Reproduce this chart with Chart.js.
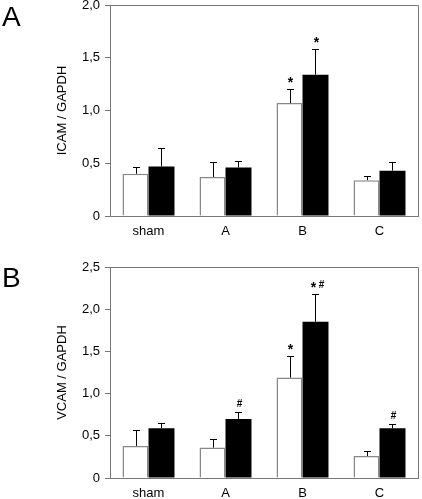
<!DOCTYPE html>
<html>
<head>
<meta charset="utf-8">
<script src="https://cdn.jsdelivr.net/npm/chart.js@4/dist/chart.umd.min.js"></script>
<style>
  html, body { margin: 0; padding: 0; background: #fff; }
  body { width: 422px; height: 499px; position: relative; overflow: hidden; font-family: "Liberation Sans", Arial, sans-serif; }
  .panel { position: absolute; left: 0; width: 422px; }
  .letter { position: absolute; left: 2px; font-size: 28px; line-height: 28px; color: #000; font-family: "Liberation Sans", Arial, sans-serif; }
</style>
</head>
<body>
<div class="panel" style="top:0;height:250px;"><canvas id="chartA" width="422" height="250"></canvas></div>
<div class="panel" style="top:250px;height:249px;"><canvas id="chartB" width="422" height="249"></canvas></div>
<div class="letter" style="top:3px;">A</div>
<div class="letter" style="top:264px;">B</div>
<script>
// ---- data ----
const categories = ['sham', 'A', 'B', 'C'];

const icamWhite = [0.40, 0.37, 1.07, 0.34];
const icamWhiteErr = [0.06, 0.14, 0.13, 0.04];
const icamBlack = [0.47, 0.46, 1.34, 0.43];
const icamBlackErr = [0.17, 0.06, 0.24, 0.08];
const icamWhiteMarks = ['', '', '*', ''];
const icamBlackMarks = ['', '', '*', ''];
const icamTicks = [0, 0.5, 1.0, 1.5, 2.0];

const vcamWhite = [0.38, 0.36, 1.19, 0.26];
const vcamWhiteErr = [0.19, 0.10, 0.26, 0.06];
const vcamBlack = [0.59, 0.70, 1.85, 0.59];
const vcamBlackErr = [0.06, 0.08, 0.33, 0.05];
const vcamWhiteMarks = ['', '', '*', ''];
const vcamBlackMarks = ['', '#', '*#', '#'];
const vcamTicks = [0, 0.5, 1.0, 1.5, 2.0, 2.5];

// ---- plugins ----
const frameColor = '#777';
const errorBarPlugin = {
  id: 'errorBars',
  afterDatasetsDraw(chart) {
    const ctx = chart.ctx;
    const yScale = chart.scales.y;
    chart.data.datasets.forEach((ds, di) => {
      const meta = chart.getDatasetMeta(di);
      meta.data.forEach((bar, i) => {
        const v = ds.data[i];
        const e = ds.errors[i];
        const yTop = yScale.getPixelForValue(v + e);
        const yBar = yScale.getPixelForValue(v);
        ctx.save();
        ctx.strokeStyle = '#000';
        ctx.lineWidth = 1;
        ctx.beginPath();
        ctx.moveTo(Math.round(bar.x) + 0.5, yBar);
        ctx.lineTo(Math.round(bar.x) + 0.5, Math.round(yTop) + 0.5);
        ctx.moveTo(Math.round(bar.x) - 3, Math.round(yTop) + 0.5);
        ctx.lineTo(Math.round(bar.x) + 4, Math.round(yTop) + 0.5);
        ctx.stroke();
        const mark = ds.marks[i];
        if (mark) {
          ctx.fillStyle = '#000';
          ctx.textAlign = 'center';
          ctx.textBaseline = 'alphabetic';
          let x = bar.x + 1;
          if (mark.length === 2) {
            ctx.font = 'bold 14px "Liberation Sans", Arial, sans-serif';
            ctx.fillText('*', x - 3, yTop - 2);
            ctx.font = 'bold 10px "Liberation Sans", Arial, sans-serif';
            ctx.fillText('#', x + 5, yTop - 6);
          } else if (mark === '*') {
            ctx.font = 'bold 14px "Liberation Sans", Arial, sans-serif';
            ctx.fillText('*', x, yTop - 2);
          } else {
            ctx.font = 'bold 10px "Liberation Sans", Arial, sans-serif';
            ctx.fillText('#', x, yTop - 5);
          }
        }
        ctx.restore();
      });
    });
    // frame top/right
    const a = chart.chartArea;
    ctx.save();
    ctx.strokeStyle = frameColor;
    ctx.lineWidth = 1;
    ctx.beginPath();
    ctx.moveTo(a.left, Math.round(a.top) + 0.5);
    ctx.lineTo(Math.round(a.right) + 0.5, Math.round(a.top) + 0.5);
    ctx.lineTo(Math.round(a.right) + 0.5, a.bottom);
    ctx.stroke();
    ctx.restore();
  }
};

function fmt(v) {
  return v === 0 ? '0' : v.toFixed(1).replace('.', ',');
}

function makeChart(id, white, whiteErr, whiteMarks, black, blackErr, blackMarks, ticks, title, padTop, xHeight) {
  const yMax = ticks[ticks.length - 1];
  return new Chart(document.getElementById(id), {
    type: 'bar',
    data: {
      labels: categories,
      datasets: [
        { data: white, errors: whiteErr, marks: whiteMarks, backgroundColor: '#fff', borderColor: '#888', borderWidth: 1.5, borderSkipped: 'bottom' },
        { data: black, errors: blackErr, marks: blackMarks, backgroundColor: '#000', borderColor: '#000', borderWidth: 0 }
      ]
    },
    options: {
      responsive: false,
      animation: false,
      devicePixelRatio: 1,
      events: [],
      layout: { padding: { left: 0, right: 4, top: padTop, bottom: 0 } },
      datasets: { bar: { categoryPercentage: 0.675, barPercentage: 1.0 } },
      plugins: { legend: { display: false }, tooltip: { enabled: false }, title: { display: false } },
      scales: {
        x: {
          grid: { display: false, drawTicks: false, tickLength: 0 },
          border: { display: true, color: frameColor, width: 1 },
          ticks: { color: '#000', font: { family: '"Liberation Sans", Arial, sans-serif', size: 13 }, padding: 8, maxRotation: 0 },
          afterFit(s) { s.height = xHeight; s.paddingLeft = 0; s.paddingRight = 0; }
        },
        y: {
          min: 0, max: yMax,
          afterBuildTicks(s) { s.ticks = ticks.map(v => ({ value: v })); },
          grid: { display: true, drawOnChartArea: false, drawTicks: true, tickLength: 5, color: frameColor, tickColor: frameColor },
          border: { display: true, color: frameColor, width: 1 },
          ticks: { color: '#000', font: { family: '"Liberation Sans", Arial, sans-serif', size: 13 }, padding: 5, callback: (v) => fmt(v) },
          title: { display: true, text: title, color: '#000', font: { family: '"Liberation Sans", Arial, sans-serif', size: 13 }, padding: { top: 55, bottom: 0 } },
          afterFit(s) { s.width = 110; s.paddingTop = 0; s.paddingBottom = 0; }
        }
      }
    },
    plugins: [errorBarPlugin]
  });
}

makeChart('chartA', icamWhite, icamWhiteErr, icamWhiteMarks, icamBlack, icamBlackErr, icamBlackMarks, icamTicks, 'ICAM / GAPDH', 5, 34);
makeChart('chartB', vcamWhite, vcamWhiteErr, vcamWhiteMarks, vcamBlack, vcamBlackErr, vcamBlackMarks, vcamTicks, 'VCAM / GAPDH', 17, 21);
</script>
</body>
</html>
